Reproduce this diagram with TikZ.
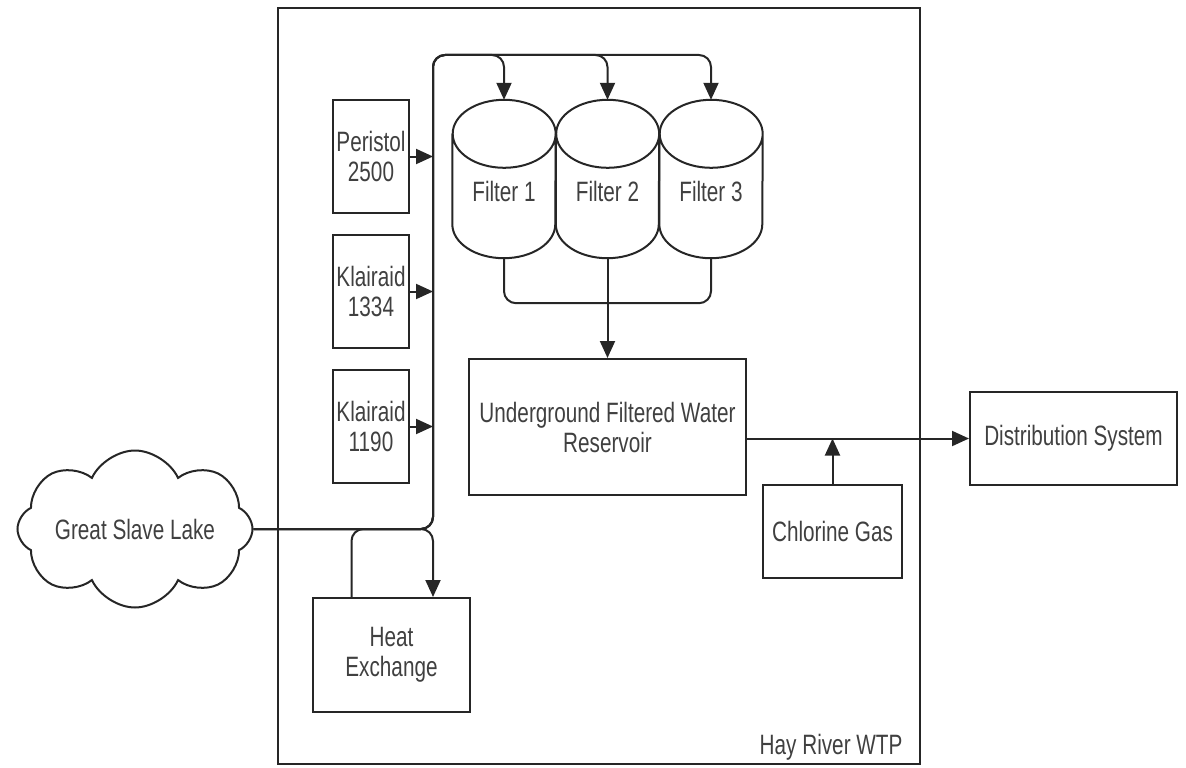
\documentclass[tikz,border=0pt]{standalone}
\usepackage{fontspec}
\usepackage{tikz}
\usetikzlibrary{arrows.meta, shapes.symbols}
\newfontfamily\wtpfont[FakeStretch=0.74]{Liberation Sans}
\colorlet{wtpLine}{black!85}
\colorlet{wtpText}{black!75}
\tikzset{
	% plant units and the pipes between them
	unit/.style={draw=wtpLine, line width=2pt, inner sep=0pt, align=center, text=wtpText},
	chem/.style={unit, minimum width=76pt, minimum height=113pt},
	filter/.style={inner sep=0pt, minimum width=103pt, minimum height=158pt},
	pipe/.style={draw=wtpLine, line width=2pt, rounded corners=12pt},
	flow/.style={pipe, -{Triangle[length=17pt, width=15pt]}},
}

\begin{document}
\begin{tikzpicture}[x=1pt, y=-1pt, font=\wtpfont\fontsize{28}{30}\selectfont]
	\useasboundingbox (0,0) rectangle (1186,768);
	% plant boundary
	\node[unit, minimum width=642pt, minimum height=756pt] (plant) at (599,386) {};
	\node[anchor=east, text=wtpText] (plantName) at ([shift={(-15pt,18pt)}]plant.south east) {Hay River WTP};

	\node[unit, cloud, cloud puffs=8, cloud puff arc=130, cloud ignores aspect,
		minimum width=235pt, minimum height=157pt] (lake) at (135,529) {Great Slave Lake};

	% chemical dosing
	\node[chem] (peristol) at (371,156.5) {Peristol\\2500};
	\node[chem] (klairA) at (371,291.5) {Klairaid\\1334};
	\node[chem] (klairB) at (371,426.5) {Klairaid\\1190};

	% filter cells
	\node[filter, label={[yshift=-12pt, text=wtpText]center:Filter 1}] (filterA) at (504,179) {};
	\node[filter, label={[yshift=-12pt, text=wtpText]center:Filter 2}] (filterB) at (607.5,179) {};
	\node[filter, label={[yshift=-12pt, text=wtpText]center:Filter 3}] (filterC) at (711,179) {};
	\foreach \f in {filterA, filterB, filterC} {
		\draw[wtpLine, line width=2pt] ([yshift=-34pt]\f.north west) -- ([yshift=34pt]\f.south west)
			arc[start angle=180, end angle=360, x radius=51.5pt, y radius=34pt]
			-- ([yshift=-34pt]\f.north east)
			arc[start angle=0, end angle=360, x radius=51.5pt, y radius=34pt];
	}

	\node[unit, minimum width=277pt, minimum height=136pt] (reservoir) at (607.5,427) {Underground Filtered Water\\Reservoir};
	\node[unit, minimum width=207pt, minimum height=93pt] (distrib) at (1073.5,438.5) {Distribution System};
	\node[unit, minimum width=139pt, minimum height=93pt] (chlorine) at (832.5,531.5) {Chlorine Gas};
	\node[unit, minimum width=157pt, minimum height=114pt] (heat) at (391.5,655) {Heat\\Exchange};

	\coordinate (bus) at (433,529);
	\coordinate (busTop) at (433,55);

	% raw water to the filters and the heat exchanger
	\foreach \f in {filterA, filterB, filterC}
		\draw[flow] (lake.east) -- (bus) -- (busTop) -| (\f.north);
	\draw[flow] (lake.east) -| (bus |- heat.north);
	\draw[pipe] ([xshift=-40pt]heat.north) |- ([xshift=-12pt]bus);

	\foreach \c in {peristol, klairA, klairB}
		\draw[flow] (\c.east) -- (\c.east -| bus);

	% filtered water
	\draw[pipe] (filterA.south) |- ([yshift=-45pt]filterB.south) -| (filterC.south);
	\draw[flow] (filterB.south) -- (reservoir.north);
	\draw[flow] (reservoir.east |- distrib.west) -- (distrib.west);
	\draw[flow] (chlorine.north) -- (chlorine.north |- distrib.west);
\end{tikzpicture}
\end{document}
